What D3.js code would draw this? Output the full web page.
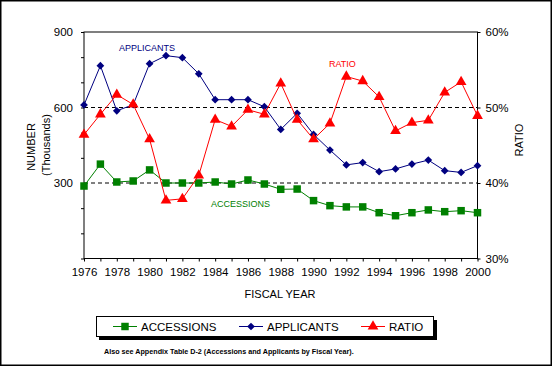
<!DOCTYPE html>
<html>
<head>
<meta charset="utf-8">
<script src="https://cdn.jsdelivr.net/npm/d3@7"></script>
<style>
    body { margin: 0; background: #fff; }
    text { font-family: Arial, "Liberation Sans", sans-serif; }
</style>
</head>
<body>
<div id="chart"></div>
<script>
const WIDTH = 552;
const HEIGHT = 366;

const years = d3.range(1976, 2001);
const accessions = [288, 375, 304, 308, 352, 300, 300, 300, 304, 296, 312, 296,
    275, 276, 230, 210, 205, 205, 182, 170, 182, 193, 186, 190, 182];
const applicants = [610, 766, 587, 611, 774, 806, 798, 734, 631, 631, 631, 603,
    513, 577, 493, 431, 372, 381, 345, 356, 375, 391, 349, 342, 369];
const ratio = [46.4, 49.1, 51.7, 50.4, 45.8, 37.7, 37.9, 41.0, 48.4, 47.5, 49.7, 49.1,
    53.2, 48.4, 45.8, 47.9, 54.1, 53.5, 51.4, 46.9, 48.0, 48.3, 52.0, 53.4, 48.9];

const leftTicks = [0, 100, 200, 300, 400, 500, 600, 700, 800, 900];
const leftLabels = [300, 600, 900];
const rightTicks = [30, 40, 50, 60];
const yearTicks = d3.range(1976, 2001, 2);

const GREEN = "#008000";
const NAVY = "#000080";
const RED = "#ff0000";

const plot = {left: 84, right: 477.5, top: 32, bottom: 258.5};

const svg = d3.select("#chart")
    .append("svg")
    .attr("width", WIDTH)
    .attr("height", HEIGHT);

svg.append("rect")
    .attr("x", 0.75).attr("y", 0.75)
    .attr("width", WIDTH - 1.5).attr("height", HEIGHT - 1.5)
    .attr("fill", "white")
    .attr("stroke", "black")
    .attr("stroke-width", 1.5);

const x = d3.scaleLinear().domain([1976, 2000]).range([plot.left, plot.right]);
const yLeft = d3.scaleLinear().domain([0, 900]).range([plot.bottom, plot.top]);
const yRight = d3.scaleLinear().domain([30, 60]).range([plot.bottom, plot.top]);

// dashed gridlines
[300, 600].forEach(v => {
    svg.append("line")
        .attr("x1", plot.left).attr("x2", plot.right)
        .attr("y1", yLeft(v)).attr("y2", yLeft(v))
        .attr("stroke", "black")
        .attr("stroke-dasharray", "4,3");
});

// frame
svg.append("rect")
    .attr("x", plot.left).attr("y", plot.top)
    .attr("width", plot.right - plot.left)
    .attr("height", plot.bottom - plot.top)
    .attr("fill", "none")
    .attr("stroke", "black");

const axisFont = g => g.selectAll("text")
    .attr("font-size", "11.5px")
    .attr("font-family", "Arial, 'Liberation Sans', sans-serif")
    .attr("fill", "black");

const leftAxis = svg.append("g")
    .attr("transform", `translate(${plot.left},0)`)
    .call(d3.axisLeft(yLeft).tickValues(leftTicks).tickSize(3).tickPadding(8)
        .tickFormat(d => leftLabels.includes(d) ? d : ""))
    .call(axisFont);

const rightAxis = svg.append("g")
    .attr("transform", `translate(${plot.right},0)`)
    .call(d3.axisRight(yRight).tickValues(rightTicks).tickSize(3).tickPadding(5)
        .tickFormat(d => d + "%"))
    .call(axisFont);

const bottomAxis = svg.append("g")
    .attr("transform", `translate(0,${plot.bottom})`)
    .call(d3.axisBottom(x).tickValues(d3.range(1976, 2001)).tickSize(3).tickPadding(6)
        .tickFormat(d => yearTicks.includes(d) ? d : ""))
    .call(axisFont);

[leftAxis, rightAxis, bottomAxis].forEach(g => g.select(".domain").remove());

// axis titles
svg.append("text")
    .attr("transform", "translate(35,147) rotate(-90)")
    .attr("text-anchor", "middle")
    .attr("font-size", "11px")
    .text("NUMBER");
svg.append("text")
    .attr("transform", "translate(50,145) rotate(-90)")
    .attr("text-anchor", "middle")
    .attr("font-size", "11px")
    .text("(Thousands)");
svg.append("text")
    .attr("transform", "translate(523,140) rotate(-90)")
    .attr("text-anchor", "middle")
    .attr("font-size", "11px")
    .text("RATIO");
svg.append("text")
    .attr("x", 280).attr("y", 298)
    .attr("text-anchor", "middle")
    .attr("font-size", "11px")
    .text("FISCAL YEAR");

// series
const lineLeft = d3.line().x((d, i) => x(years[i])).y(d => yLeft(d));
const lineRight = d3.line().x((d, i) => x(years[i])).y(d => yRight(d));

const square = d3.symbol().type(d3.symbolSquare).size(56);
const diamond = d3.symbol().type(d3.symbolSquare).size(30);
const triangle = d3.symbol().type(d3.symbolTriangle).size(50);

const series = [
    {values: accessions, color: GREEN, line: lineLeft, y: yLeft, symbol: square, rot: 0},
    {values: applicants, color: NAVY, line: lineLeft, y: yLeft, symbol: diamond, rot: 45},
    {values: ratio, color: RED, line: lineRight, y: yRight, symbol: triangle, rot: 0}
];

series.forEach(s => {
    const g = svg.append("g");
    g.append("path")
        .attr("d", s.line(s.values))
        .attr("fill", "none")
        .attr("stroke", s.color)
        .attr("stroke-width", 1);
    g.selectAll("path.mark")
        .data(s.values)
        .enter()
        .append("path")
        .attr("class", "mark")
        .attr("d", s.symbol)
        .attr("transform", (d, i) => `translate(${x(years[i])},${s.y(d)}) rotate(${s.rot})`)
        .attr("fill", s.color);
});

// series labels
const labels = [
    {text: "APPLICANTS", x: 119, y: 51, color: NAVY},
    {text: "RATIO", x: 329, y: 67, color: RED},
    {text: "ACCESSIONS", x: 211, y: 207, color: GREEN}
];
labels.forEach(l => {
    svg.append("text")
        .attr("x", l.x).attr("y", l.y)
        .attr("font-size", "9px")
        .attr("fill", l.color)
        .text(l.text);
});

// legend
const legend = svg.append("g");
legend.append("rect")
    .attr("x", 99).attr("y", 320)
    .attr("width", 338).attr("height", 20)
    .attr("fill", "black");
legend.append("rect")
    .attr("x", 96.5).attr("y", 316.5)
    .attr("width", 337).attr("height", 20)
    .attr("fill", "white")
    .attr("stroke", "black");

const legendItems = [
    {name: "ACCESSIONS", color: GREEN, symbol: square, rot: 0, x: 113},
    {name: "APPLICANTS", color: NAVY, symbol: diamond, rot: 45, x: 239},
    {name: "RATIO", color: RED, symbol: triangle, rot: 0, x: 361}
];
legendItems.forEach(item => {
    legend.append("line")
        .attr("x1", item.x).attr("x2", item.x + 24)
        .attr("y1", 326.5).attr("y2", 326.5)
        .attr("stroke", item.color);
    legend.append("path")
        .attr("d", item.symbol)
        .attr("transform", `translate(${item.x + 12},326.5) rotate(${item.rot})`)
        .attr("fill", item.color);
    legend.append("text")
        .attr("x", item.x + 28).attr("y", 331)
        .attr("font-size", "11.5px")
        .text(item.name);
});

svg.append("text")
    .attr("x", 104).attr("y", 354)
    .attr("font-size", "7.2px")
    .attr("font-weight", "bold")
    .text("Also see Appendix Table D-2 (Accessions and Applicants by Fiscal Year).");
</script>
</body>
</html>
